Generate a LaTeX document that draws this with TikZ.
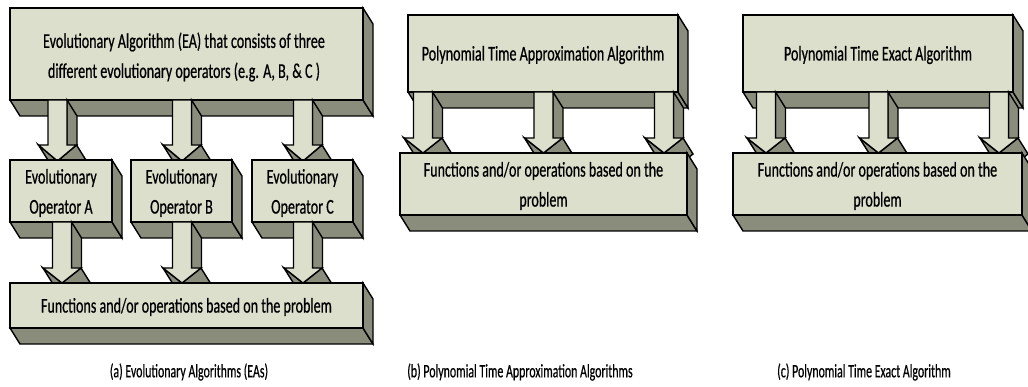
\documentclass[tikz,border=0pt]{standalone}
\usepackage{fontspec}
\newfontfamily\boxfont[FakeStretch=0.67,FakeBold=0.6]{Carlito}
\newfontfamily\capfont[FakeStretch=0.625,FakeBold=0.5]{Carlito}
\definecolor{facecol}{RGB}{220,223,203}
\definecolor{sidecol}{RGB}{138,140,124}
\def\dx{10}
\def\dy{16}
% 3D box: front face x1 y1 x2 y2 (pixel coords, y downward)
\newcommand\cubebox[4]{%
  \filldraw[sidepart] (#1,#4) -- ({#1+\dx},{#4+\dy}) -- ({#3+\dx},{#4+\dy}) -- (#3,#4) -- cycle;
  \filldraw[sidepart] (#3,#2) -- ({#3+\dx},{#2+\dy}) -- ({#3+\dx},{#4+\dy}) -- (#3,#4) -- cycle;
  \filldraw[frontpart] (#1,#2) rectangle (#3,#4);
}
% 3D down arrow: centre x, top y, head start y, tip y
\newcommand\blockdown[4]{%
  \filldraw[sidepart] ({#1+9.5},#2) -- ({#1+9.5},#3) -- ({#1+9.5+\dx},{#3+\dy}) -- ({#1+9.5+\dx},{#2+\dy}) -- cycle;
  \filldraw[sidepart] ({#1+19},#3) -- (#1,#4) -- ({#1+\dx},{#4+\dy}) -- ({#1+19+\dx},{#3+\dy}) -- cycle;
  \filldraw[sidepart] (#1,#4) -- ({#1-19},#3) -- ({#1-19+\dx},{#3+\dy}) -- ({#1+\dx},{#4+\dy}) -- cycle;
  \filldraw[frontpart] ({#1-9.5},#2) -- ({#1+9.5},#2) -- ({#1+9.5},#3) -- ({#1+19},#3) -- (#1,#4) -- ({#1-19},#3) -- ({#1-9.5},#3) -- cycle;
}
\tikzset{
  sidepart/.style={fill=sidecol, draw=black, line width=1.4pt, line join=miter},
  frontpart/.style={fill=facecol, draw=black, line width=1.4pt, line join=miter},
  boxtext/.style={align=center, inner sep=0pt, font=\boxfont\fontsize{21}{30}\selectfont, text=black},
  captext/.style={inner sep=0pt, font=\capfont\fontsize{19}{20}\selectfont, text=black}
}
\begin{document}
\begin{tikzpicture}[x=1pt, y=-1pt]
\useasboundingbox (0,0) rectangle (1028,387);
\begin{scope}
\clip (0,0) rectangle (1028,387);
% ---------------- (a)
\cubebox{10}{8}{363}{100}
\node[boxtext] (ea) at (184,57) {Evolutionary Algorithm (EA) that consists of three\\different evolutionary operators (e.g. A, B, \& C )};
\blockdown{57.5}{100}{145}{161}
\blockdown{182}{100}{145}{161}
\blockdown{303}{100}{145}{161}
\cubebox{10}{160}{112}{222}
\cubebox{131}{160}{232}{222}
\cubebox{252}{160}{353}{222}
\node[boxtext] (opa) at (61,193) {Evolutionary\\Operator A};
\node[boxtext] (opb) at (181.5,193) {Evolutionary\\Operator B};
\node[boxtext] (opc) at (302.5,193) {Evolutionary\\Operator C};
\blockdown{62}{222}{268}{283}
\blockdown{182}{222}{268}{283}
\blockdown{303}{222}{268}{283}
\cubebox{10}{283}{363}{328}
\node[boxtext] (fa) at (186.5,307) {Functions and/or operations based on the problem};
% ---------------- (b)
\cubebox{408}{15}{678}{92}
\node[boxtext] (pta) at (543,55) {Polynomial Time Approximation Algorithm};
\blockdown{423}{92}{138}{153}
\blockdown{543.5}{92}{138}{153}
\blockdown{664}{92}{138}{153}
\cubebox{400}{153}{687}{215}
\node[boxtext] (fb) at (543.5,186) {Functions and/or operations based on the\\problem};
% ---------------- (c)
\cubebox{743}{15}{1013}{92}
\node[boxtext] (pte) at (878,55) {Polynomial Time Exact Algorithm};
\blockdown{766}{92}{138}{153}
\blockdown{878.5}{92}{138}{153}
\blockdown{999}{92}{138}{153}
\cubebox{733}{153}{1022}{215}
\node[boxtext] (fc) at (877.5,186) {Functions and/or operations based on the\\problem};
\end{scope}
% captions
\node[captext] (capa) at (189,372) {(a) Evolutionary Algorithms (EAs)};
\node[captext] (capb) at (520,372) {(b) Polynomial Time Approximation Algorithms};
\node[captext] (capc) at (864,372) {(c) Polynomial Time Exact Algorithm};
\end{tikzpicture}
\end{document}
